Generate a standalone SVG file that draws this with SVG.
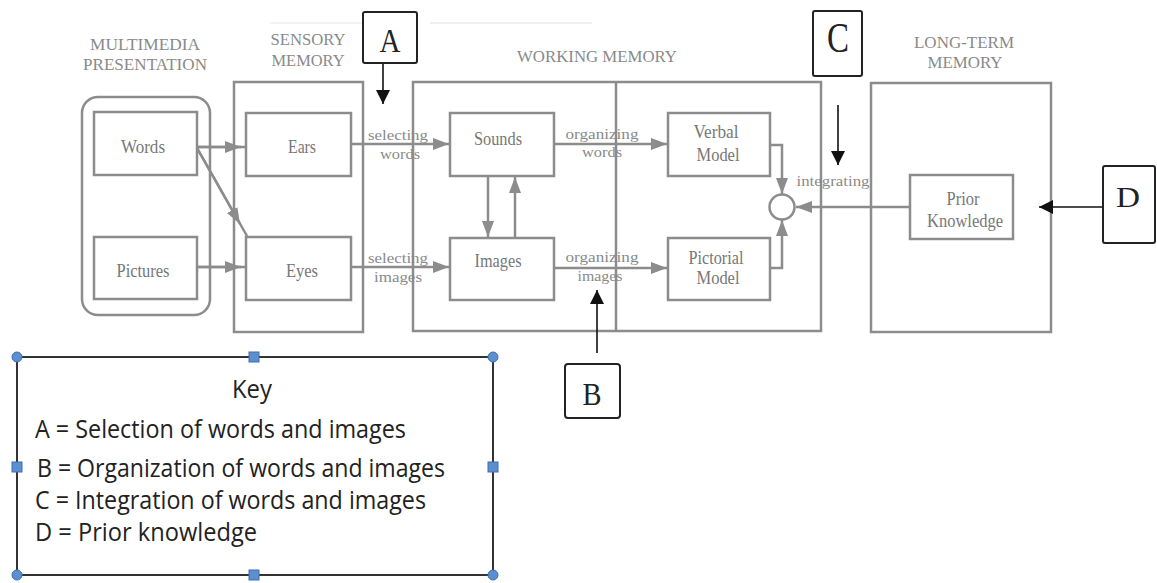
<svg xmlns="http://www.w3.org/2000/svg" width="1157" height="583" viewBox="0 0 1157 583">
<defs>
<style>
.box{fill:#fff;stroke:#8c8c8c;stroke-width:2.5}
.frame{fill:none;stroke:#8c8c8c;stroke-width:2.5}
.h{font-family:"Liberation Serif",serif;font-size:17px;fill:#8a8a8a;text-anchor:middle}
.n{font-family:"Liberation Serif",serif;font-size:18px;fill:#777;text-anchor:middle}
.l{font-family:"Liberation Serif",serif;font-size:15px;fill:#8a8a8a;text-anchor:middle}
.con{stroke:#8c8c8c;stroke-width:2.5;fill:none}
.blk{stroke:#111;stroke-width:1.6;fill:none}
.lb{fill:#fff;stroke:#222;stroke-width:2}
.lt{font-family:"Liberation Serif",serif;fill:#222;text-anchor:middle}
.k{font-family:"Open Sans","Liberation Sans",sans-serif;font-size:25px;fill:#222}
.hc{fill:#5b8fd0;stroke:#3f6fae;stroke-width:1}
</style>
<marker id="ag" viewBox="0 0 16 12" markerWidth="16" markerHeight="12" refX="16" refY="6" orient="auto" markerUnits="userSpaceOnUse">
<path d="M0,0 L16,6 L0,12 z" fill="#8c8c8c"/>
</marker>
<marker id="ab" viewBox="0 0 14 14" markerWidth="14" markerHeight="14" refX="14" refY="7" orient="auto" markerUnits="userSpaceOnUse">
<path d="M0,0 L14,7 L0,14 z" fill="#111"/>
</marker>
</defs>
<rect width="1157" height="583" fill="#fff"/>
<line x1="270" y1="23" x2="363" y2="23" stroke="#efefef" stroke-width="1.5"/>
<line x1="430" y1="23" x2="592" y2="23" stroke="#efefef" stroke-width="2"/>

<g id="multimedia">
<text class="h" x="145" y="50" textLength="110" lengthAdjust="spacingAndGlyphs">MULTIMEDIA</text>
<text class="h" x="145" y="70" textLength="124" lengthAdjust="spacingAndGlyphs">PRESENTATION</text>
<rect class="frame" x="82" y="97" width="128" height="218" rx="16"/>
</g>
<g id="words"><rect class="box" x="94" y="112" width="103" height="63"/><text class="n" x="143" y="153" textLength="44" lengthAdjust="spacingAndGlyphs">Words</text></g>
<g id="pictures"><rect class="box" x="94" y="237" width="103" height="62"/><text class="n" x="143" y="277" textLength="53" lengthAdjust="spacingAndGlyphs">Pictures</text></g>

<g id="sensory">
<text class="h" x="308" y="45" textLength="75" lengthAdjust="spacingAndGlyphs">SENSORY</text>
<text class="h" x="308" y="66" textLength="73" lengthAdjust="spacingAndGlyphs">MEMORY</text>
<rect class="frame" x="234" y="82" width="129" height="250"/>
</g>
<g id="ears"><rect class="box" x="246" y="113" width="105" height="63"/><text class="n" x="302" y="153" textLength="28" lengthAdjust="spacingAndGlyphs">Ears</text></g>
<g id="eyes"><rect class="box" x="246" y="237" width="105" height="63"/><text class="n" x="302" y="277" textLength="32" lengthAdjust="spacingAndGlyphs">Eyes</text></g>

<g id="working">
<text class="h" x="597" y="62" textLength="160" lengthAdjust="spacingAndGlyphs">WORKING MEMORY</text>
<rect class="frame" x="413" y="82" width="408" height="249"/>
<line class="frame" x1="616" y1="82" x2="616" y2="331"/>
</g>
<g id="sounds"><rect class="box" x="450" y="113" width="104" height="63"/><text class="n" x="498" y="145" textLength="48" lengthAdjust="spacingAndGlyphs">Sounds</text></g>
<g id="images"><rect class="box" x="450" y="238" width="104" height="62"/><text class="n" x="498" y="267" textLength="47" lengthAdjust="spacingAndGlyphs">Images</text></g>
<g id="verbal"><rect class="box" x="668" y="113" width="102" height="63"/><text class="n" x="716" y="138" textLength="45" lengthAdjust="spacingAndGlyphs">Verbal</text><text class="n" x="718" y="161" textLength="43" lengthAdjust="spacingAndGlyphs">Model</text></g>
<g id="pictorial"><rect class="box" x="668" y="238" width="102" height="62"/><text class="n" x="716" y="264" textLength="55" lengthAdjust="spacingAndGlyphs">Pictorial</text><text class="n" x="718" y="284" textLength="43" lengthAdjust="spacingAndGlyphs">Model</text></g>
<g id="integrate"><circle cx="782" cy="207" r="12.5" fill="#fff" stroke="#8c8c8c" stroke-width="2.5"/></g>

<g id="longterm">
<text class="h" x="964" y="48" textLength="100" lengthAdjust="spacingAndGlyphs">LONG-TERM</text>
<text class="h" x="965" y="68" textLength="75" lengthAdjust="spacingAndGlyphs">MEMORY</text>
<rect class="frame" x="871" y="83" width="180" height="249"/>
</g>
<g id="prior"><rect class="box" x="910" y="175" width="103" height="64"/><text class="n" x="963" y="205" textLength="33" lengthAdjust="spacingAndGlyphs">Prior</text><text class="n" x="965" y="227" textLength="76" lengthAdjust="spacingAndGlyphs">Knowledge</text></g>

<g id="connectors">
<line class="con" x1="197" y1="147" x2="246" y2="147"/>
<line class="con" x1="197" y1="147" x2="241" y2="147" marker-end="url(#ag)"/>
<line class="con" x1="197" y1="148" x2="247" y2="236"/>
<line class="con" x1="197" y1="148" x2="240" y2="224" marker-end="url(#ag)"/>
<line class="con" x1="197" y1="267" x2="246" y2="267"/>
<line class="con" x1="197" y1="267" x2="241" y2="267" marker-end="url(#ag)"/>
<line class="con" x1="351" y1="144" x2="449" y2="144" marker-end="url(#ag)"/>
<line class="con" x1="351" y1="267" x2="449" y2="267" marker-end="url(#ag)"/>
<line class="con" x1="488" y1="176" x2="488" y2="237" marker-end="url(#ag)"/>
<line class="con" x1="515" y1="238" x2="515" y2="177" marker-end="url(#ag)"/>
<line class="con" x1="554" y1="144" x2="667" y2="144" marker-end="url(#ag)"/>
<line class="con" x1="554" y1="268" x2="667" y2="268" marker-end="url(#ag)"/>
<polyline class="con" points="770,145 782,145 782,194" marker-end="url(#ag)"/>
<polyline class="con" points="770,268 782,268 782,220" marker-end="url(#ag)"/>
<line class="con" x1="910" y1="207" x2="796" y2="207" marker-end="url(#ag)"/>
<text class="l" x="398" y="140" textLength="60" lengthAdjust="spacingAndGlyphs">selecting</text>
<text class="l" x="400" y="159" textLength="40" lengthAdjust="spacingAndGlyphs">words</text>
<text class="l" x="398" y="263" textLength="60" lengthAdjust="spacingAndGlyphs">selecting</text>
<text class="l" x="398" y="282" textLength="48" lengthAdjust="spacingAndGlyphs">images</text>
<text class="l" x="602" y="139" textLength="73" lengthAdjust="spacingAndGlyphs">organizing</text>
<text class="l" x="602" y="157" textLength="40" lengthAdjust="spacingAndGlyphs">words</text>
<text class="l" x="602" y="262" textLength="73" lengthAdjust="spacingAndGlyphs">organizing</text>
<text class="l" x="600" y="281" textLength="45" lengthAdjust="spacingAndGlyphs">images</text>
<text class="l" x="833" y="186" textLength="73" lengthAdjust="spacingAndGlyphs">integrating</text>
<line class="blk" x1="383" y1="63" x2="383" y2="104" marker-end="url(#ab)"/>
<line class="blk" x1="597" y1="353" x2="597" y2="290" marker-end="url(#ab)"/>
<line class="blk" x1="838" y1="105" x2="838" y2="165" marker-end="url(#ab)"/>
<line class="blk" x1="1103" y1="207" x2="1039" y2="207" marker-end="url(#ab)"/>
</g>

<g id="labelA"><rect class="lb" x="363" y="12" width="54" height="51" rx="2"/><text class="lt" x="390" y="52" font-size="33" textLength="21" lengthAdjust="spacingAndGlyphs">A</text></g>
<g id="labelB"><rect class="lb" x="565" y="364" width="55" height="54" rx="3"/><text class="lt" x="592" y="405" font-size="32" textLength="19" lengthAdjust="spacingAndGlyphs">B</text></g>
<g id="labelC"><rect class="lb" x="813" y="11" width="49" height="65" rx="2"/><text class="lt" x="838" y="52" font-size="43" textLength="22" lengthAdjust="spacingAndGlyphs">C</text></g>
<g id="labelD"><rect class="lb" x="1103" y="166" width="52" height="77" rx="2"/><text class="lt" x="1128" y="207" font-size="30" textLength="24" lengthAdjust="spacingAndGlyphs">D</text></g>

<g id="key">
<rect x="17" y="357" width="476" height="218" fill="#fff" stroke="#333" stroke-width="2"/>
<text class="k" x="252" y="398" text-anchor="middle" textLength="40" lengthAdjust="spacingAndGlyphs">Key</text>
<text class="k" x="35" y="438" textLength="371" lengthAdjust="spacingAndGlyphs">A = Selection of words and images</text>
<text class="k" x="37" y="477" textLength="408" lengthAdjust="spacingAndGlyphs">B = Organization of words and images</text>
<text class="k" x="35" y="509" textLength="391" lengthAdjust="spacingAndGlyphs">C = Integration of words and images</text>
<text class="k" x="35" y="541" textLength="222" lengthAdjust="spacingAndGlyphs">D = Prior knowledge</text>
<circle class="hc" cx="17" cy="357" r="5"/>
<circle class="hc" cx="493" cy="357" r="5"/>
<circle class="hc" cx="17" cy="575" r="5"/>
<circle class="hc" cx="493" cy="575" r="5"/>
<rect class="hc" x="249" y="352" width="10" height="10"/>
<rect class="hc" x="249" y="570" width="10" height="10"/>
<rect class="hc" x="12" y="462" width="10" height="10"/>
<rect class="hc" x="488" y="462" width="10" height="10"/>
</g>
</svg>
